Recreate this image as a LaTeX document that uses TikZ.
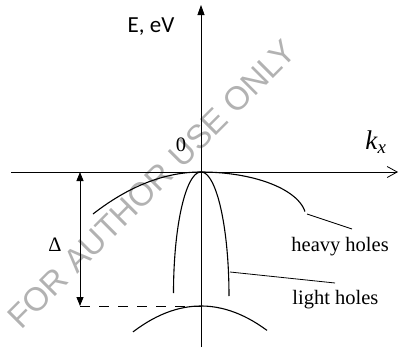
\documentclass[tikz,border=0pt]{standalone}
\usepackage{fontspec}
\setmainfont{Liberation Serif}
\newfontfamily\labelsans{Carlito}
\newfontfamily\marksans{Liberation Sans}
\usetikzlibrary{arrows.meta}

\begin{document}
\begin{tikzpicture}[x=1pt,y=-1pt,line width=0.8pt,
  band/.style={line width=1.1pt},
  lbl/.style={inner sep=0pt,font=\fontsize{20.5}{24}\selectfont}]
\useasboundingbox (0,0) rectangle (400,351);
\node[text=black!30,rotate=45,inner sep=0pt,font=\marksans\fontsize{33}{36}\selectfont] (wm) at (152,184) {FOR AUTHOR USE ONLY};
% axes
\coordinate (O) at (201,172);
\coordinate (xl) at (11,172);
\coordinate (xr) at (398,172);
\coordinate (yb) at (201,347);
\coordinate (yt) at (201,5);
\draw[-{Straight Barb[length=10pt,width=11pt]}] (xl) -- (xr);
\draw[-{Triangle[length=10pt,width=7pt]}] (yb) -- (yt);
\node[inner sep=0pt,font=\labelsans\fontsize{23}{26}\selectfont] (E) at (151,27) {E, eV};
\node[lbl] (zero) at (181,145) {0};
\node[inner sep=0pt,font=\fontsize{27}{30}\selectfont] (k) at (376,142) {\textit{k}\textsubscript{\textit{x}}};
% bands
\draw[band] plot[domain=-108:0,samples=30] (201+\x,172+0.0036*\x*\x)
  -- plot[domain=0:82,samples=30] ({201+105*sin(\x)},{172+46*(1-cos(\x))});
\draw[band] plot[domain=180:90,samples=40] ({201+27.5*cos(\x)},{293-121*sin(\x)})
  -- plot[domain=90:0,samples=40] ({201+28*cos(\x)},{296-124*sin(\x)});
\draw[band] plot[domain=-68:66,samples=30] (201+\x,306+0.0056*\x*\x);
% labels
\coordinate (hh) at (307,214);
\coordinate (hhend) at (352,229);
\draw (hh) -- (hhend);
\node[lbl,anchor=west] (heavy) at (291,247) {heavy holes};
\coordinate (lh) at (230,272);
\coordinate (lhend) at (335,283);
\draw (lh) -- (lhend);
\node[lbl,anchor=west] (light) at (292,300) {light holes};
% splitting
\coordinate (dtop) at (80,172);
\coordinate (dbot) at (80,306);
\coordinate (so) at (201,306);
\draw[{Triangle[length=9pt,width=7pt]}-{Triangle[length=9pt,width=7pt]}] (dtop) -- (dbot);
\draw[dash pattern=on 10pt off 9pt] (dbot) -- (so);
\node[lbl] (delta) at (55,245) {Δ};
\end{tikzpicture}
\end{document}
